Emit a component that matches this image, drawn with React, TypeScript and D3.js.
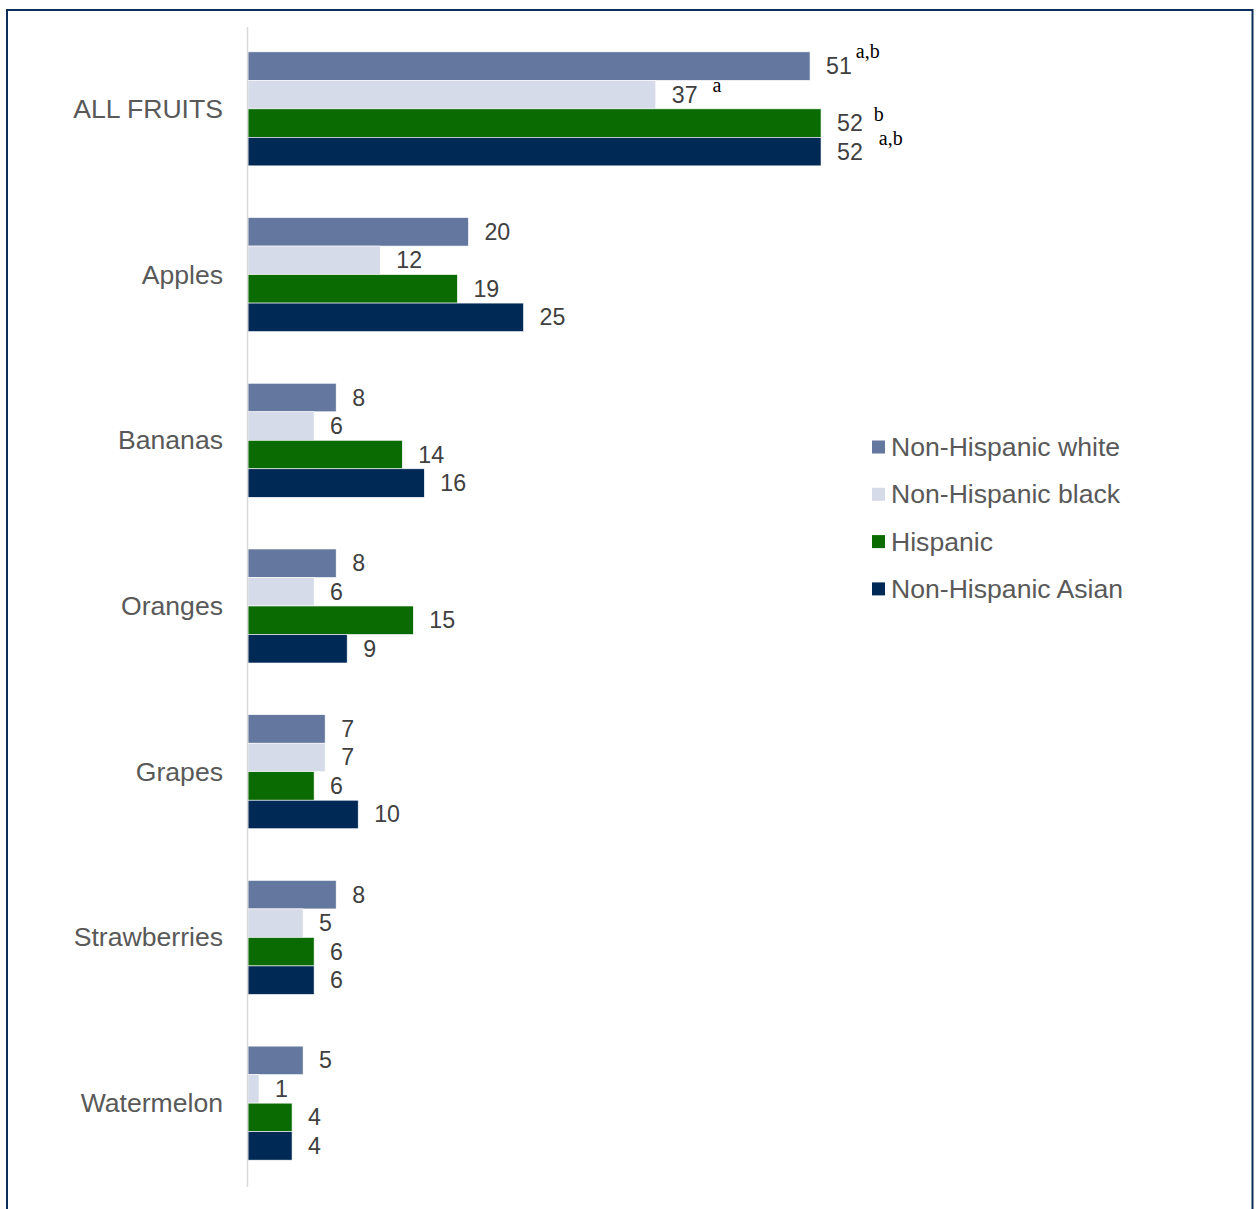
import React from "react";
import * as d3 from "d3";

const categories = ["ALL FRUITS", "Apples", "Bananas", "Oranges", "Grapes", "Strawberries", "Watermelon"];
const seriesNames = ["Non-Hispanic white", "Non-Hispanic black", "Hispanic", "Non-Hispanic Asian"];
const whiteValues = [51, 20, 8, 8, 7, 8, 5];
const blackValues = [37, 12, 6, 6, 7, 5, 1];
const hispanicValues = [52, 19, 14, 15, 6, 6, 4];
const asianValues = [52, 25, 16, 9, 10, 6, 4];
const seriesColors = ["#64779E", "#D5DBE8", "#0A6B02", "#002A55"];
// significance notes on ALL FRUITS bars: [seriesIndex, note]
const notes: [number, string][] = [
  [0, "a,b"],
  [1, "a"],
  [2, "b"],
  [3, "a,b"],
];

const W = 1258;
const H = 1209;

export default function App() {
  const seriesValues = [whiteValues, blackValues, hispanicValues, asianValues];
  const x = d3.scaleLinear().domain([0, 60]).range([248, 248 + 11.02 * 60]);
  const y = d3
    .scaleBand<string>()
    .domain(categories)
    .range([26, 1186])
    .paddingInner(0.312)
    .paddingOuter(0.156);
  const ySub = d3
    .scaleBand<number>()
    .domain(d3.range(seriesNames.length))
    .range([0, y.bandwidth()]);

  const noteOffsets = [
    { dx: 4, dy: -8 },
    { dx: 15, dy: -2.5 },
    { dx: 11, dy: -2 },
    { dx: 16, dy: -6.5 },
  ];

  const labelFont = "'Liberation Sans', Arial, sans-serif";

  return (
    <div style={{ position: "absolute", left: 0, top: 0 }}>
      <svg width={W} height={H} style={{ display: "block", background: "#fff" }}>
        <rect x={7} y={10} width={1245.5} height={1300} fill="#fff" stroke="#0D2F57" strokeWidth={2} />
        {categories.map((c, ci) => (
          <g key={c}>
            <text
              x={223}
              y={(y(c) as number) + y.bandwidth() / 2}
              textAnchor="end"
              dominantBaseline="central"
              fontFamily={labelFont}
              fontSize={26.6}
              fill="#595959"
            >
              {c}
            </text>
            {seriesValues.map((vals, si) => {
              const y0 = (y(c) as number) + (ySub(si) as number);
              const h = ySub.bandwidth();
              const v = vals[ci];
              return (
                <g key={si}>
                  <rect
                    x={x(0)}
                    y={y0}
                    width={x(v) - x(0)}
                    height={h}
                    fill={seriesColors[si]}
                    stroke="#ffffff"
                    strokeWidth={0.6}
                  />
                  <text
                    x={x(v) + 16}
                    y={y0 + h / 2}
                    dominantBaseline="central"
                    fontFamily={labelFont}
                    fontSize={23.2}
                    fill="#404040"
                  >
                    {v}
                  </text>
                </g>
              );
            })}
          </g>
        ))}
        {notes.map(([si, note], i) => {
          const v = seriesValues[si][0];
          const y0 = (y(categories[0]) as number) + (ySub(si) as number) + ySub.bandwidth() / 2;
          const labelW = String(v).length * 12.9;
          return (
            <text
              key={i}
              x={x(v) + 16 + labelW + noteOffsets[i].dx}
              y={y0 + noteOffsets[i].dy}
              fontFamily="'Liberation Serif', 'Times New Roman', serif"
              fontSize={20}
              fill="#000"
            >
              {note}
            </text>
          );
        })}
        <line x1={247.5} x2={247.5} y1={27} y2={1187} stroke="#D9D9D9" strokeWidth={1.5} />
        {seriesNames.map((s, i) => (
          <g key={s} transform={`translate(872, ${447 + i * 47.3})`}>
            <rect x={0} y={-6.5} width={13} height={13} fill={seriesColors[i]} />
            <text x={19} y={0} dominantBaseline="central" fontFamily={labelFont} fontSize={26.6} fill="#595959">
              {s}
            </text>
          </g>
        ))}
      </svg>
    </div>
  );
}
